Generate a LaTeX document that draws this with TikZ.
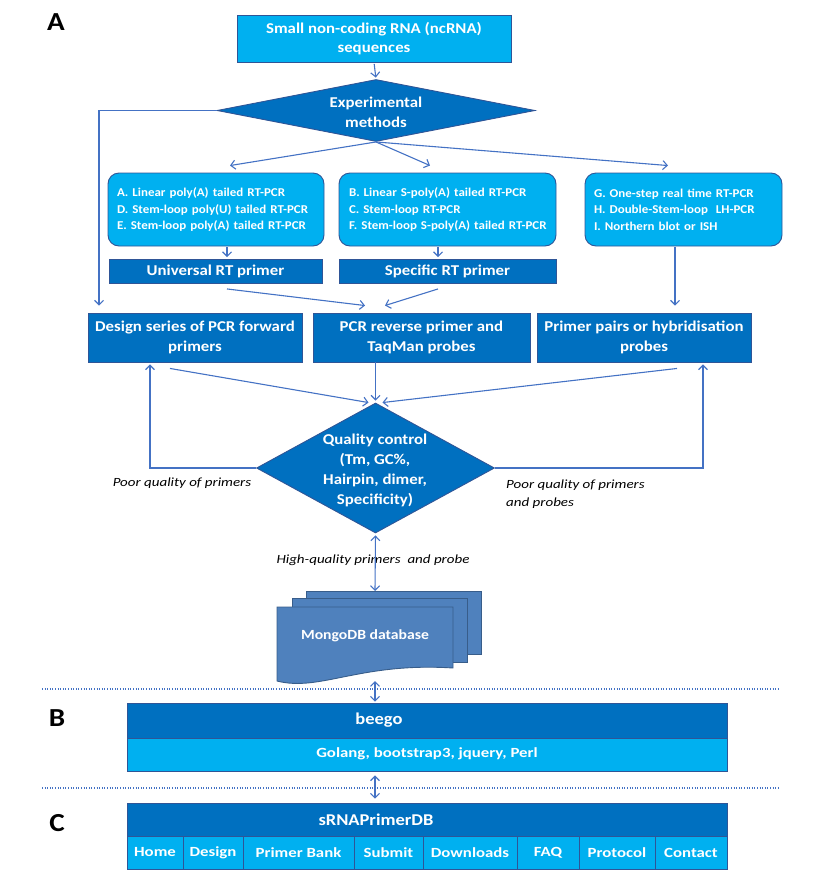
\documentclass[tikz,border=0pt]{standalone}
\usepackage{fontspec}
\setmainfont[FakeStretch=1.12]{Carlito}
\newfontfamily\smallwide[FakeStretch=1.2]{Carlito}
\newfontfamily\rfont[FakeStretch=1.08]{Carlito}
\usetikzlibrary{shapes.geometric,arrows.meta,calc}
\definecolor{lb}{HTML}{00B0F0}
\definecolor{db}{HTML}{0070C0}
\definecolor{bd}{HTML}{2F5597}
\definecolor{ar}{HTML}{4472C4}
\definecolor{mg}{HTML}{4F81BD}
\definecolor{mgb}{HTML}{385D8A}
\begin{document}
\begin{tikzpicture}[x=1pt,y=-1pt,
  box/.style={draw=bd, line width=0.9pt, inner sep=0pt, text=white, align=center, font=\bfseries\fontsize{15}{20}\selectfont},
  lbox/.style={box, fill=lb},
  dbox/.style={box, fill=db},
  rbox/.style={box, fill=lb, rounded corners=11pt, align=left, inner xsep=9pt, font=\rfont\bfseries\fontsize{12}{16.5}\selectfont, minimum height=73pt},
  diam/.style={diamond, draw=bd, fill=db, line width=0.9pt, inner sep=0pt},
  wtxt/.style={text=white, align=center, font=\bfseries\fontsize{15}{20}\selectfont, inner sep=0pt},
  ttxt/.style={text=white, align=center, font=\bfseries\fontsize{14}{17}\selectfont, inner sep=0pt},
  htxt/.style={text=white, align=center, font=\bfseries\fontsize{16.5}{18}\selectfont, inner sep=0pt},
  itxt/.style={font=\smallwide\itshape\fontsize{12.5}{18}\selectfont, inner sep=0pt, align=left},
  lab/.style={font=\bfseries\fontsize{26}{28}\selectfont, inner sep=0pt},
  arr/.style={draw=ar, line width=1.1pt, -{Straight Barb[length=4.5pt,width=9pt]}},
  darr/.style={draw=ar, line width=1.1pt, {Straight Barb[length=4.5pt,width=9pt]}-{Straight Barb[length=4.5pt,width=9pt]}},
  mdoc/.style={draw=mgb, fill=mg, line width=0.9pt},
  sep/.style={draw=ar, line width=1.2pt, dash pattern=on 1pt off 1.6pt}]
\useasboundingbox (0,0) rectangle (815,873);

% labels
\node[lab] (labA) at (56,22) {A};
\node[lab] (labB) at (57,718) {B};
\node[lab] (labC) at (57,823) {C};

% top
\node[lbox, minimum width=274pt, minimum height=47pt] (src) at (374,38.5) {Small non-coding RNA (ncRNA)\\[-1pt]sequences};
\node[diam, minimum width=318pt, minimum height=62pt] (exp) at (376,110.5) {};
\node[wtxt] (exptx) at (376,112) {Experimental\\methods};

% method boxes
\node[rbox, text width=198pt] (r1) at (216,209.5) {\mbox{A. Linear poly(A) tailed RT-PCR}\\\mbox{D. Stem-loop poly(U) tailed RT-PCR}\\\mbox{E. Stem-loop poly(A) tailed RT-PCR}};
\node[rbox, text width=197pt, inner xsep=10pt] (r2) at (447.5,209.5) {\mbox{B. Linear S-poly(A) tailed RT-PCR}\\\mbox{C. Stem-loop RT-PCR}\\\mbox{F. Stem-loop S-poly(A) tailed RT-PCR}};
\node[rbox, text width=179pt] (r3) at (683.5,209.5) {\mbox{G. One-step real time RT-PCR}\\\mbox{H. Double-Stem-loop\ \ LH-PCR}\\\mbox{I. Northern blot or ISH}};

\node[dbox, minimum width=213pt, minimum height=24pt] (univ) at (215.5,271.5) {Universal RT primer};
\node[dbox, minimum width=217pt, minimum height=24pt] (spec) at (447.5,271.5) {Specific RT primer};

% row of primer boxes
\node[dbox, minimum width=214pt, minimum height=49pt] (design) at (195,337.5) {Design series of PCR forward\\primers};
\node[dbox, minimum width=217pt, minimum height=49pt] (pcr) at (421.5,337.5) {PCR reverse primer and\\TaqMan probes};
\node[dbox, minimum width=214pt, minimum height=49pt] (ppairs) at (644,337.5) {Primer pairs or hybridisation\\probes};

% QC
\node[diam, minimum width=238pt, minimum height=130pt] (qc) at (375.5,468) {};
\node[wtxt] (qctx) at (375,470) {Quality control\\(Tm, GC\%,\\Hairpin, dimer,\\Specificity)};

\node[itxt] (poor1) at (182,483) {Poor quality of primers};
\node[itxt, anchor=west] (poor2) at (506,494) {Poor quality of primers\\and probes};
\node[itxt] (hq) at (373,560) {High-quality primers\ \ and probe};

% MongoDB multidocument
\draw[mdoc] (306,591) rectangle (481,654);
\draw[mdoc] (292,598) rectangle (467,662);
\draw[mdoc] (277,607) -- (453,607) -- (453,668) .. controls (360,662) and (320,692) .. (277,681) -- cycle;
\node[ttxt] (mongo) at (365,636) {MongoDB database};
\coordinate (mtop) at (375,591);
\coordinate (mbot) at (375,679);

% B layer
\node[dbox, minimum width=600pt, minimum height=35pt] (beego) at (427,720.5) {};
\node[htxt] (beegotx) at (379,720) {beego};
\node[lbox, minimum width=600pt, minimum height=33pt] (golang) at (427,754.5) {};
\node[ttxt, font=\smallwide\bfseries\fontsize{14}{17}\selectfont] (golangtx) at (427,754) {Golang, bootstrap3, jquery, Perl};

% C layer
\node[dbox, minimum width=600pt, minimum height=33pt] (srna) at (427,819.5) {};
\node[htxt] (srnatx) at (376,820) {sRNAPrimerDB};
\foreach \a/\b/\t/\n in {127/183/Home/c1, 183/243/Design/c2, 243/354/Primer Bank/c3, 354/423/Submit/c4, 423/517/Downloads/c5, 517/579/FAQ/c6, 579/655/Protocol/c7, 655/727/Contact/c8}{
  \pgfmathsetmacro\w{\b-\a}
  \pgfmathsetmacro\cx{(\a+\b)/2}
  \node[lbox, minimum width=\w pt, minimum height=33pt, font=\smallwide\bfseries\fontsize{14}{16}\selectfont] (\n) at (\cx,852.5) {\t};
}

% separators
\draw[sep] (42,689) -- (778,689);
\draw[sep] (42,788) -- (778,788);

% connectors
\draw[arr, shorten <=1.5pt, shorten >=1.5pt] (src.south) -- (exp.north);
\draw[arr] (exp.south) -- ($(r1.north)+(14,-7)$);
\draw[arr] (exp.south) -- ($(r2.north)+(-17.5,-7)$);
\draw[arr] (exp.south) -- ($(r3.north)+(-15.5,-7)$);
\coordinate (lcorner) at (99,110.5);
\draw[arr] (exp.west) -- (lcorner) -- ($(lcorner |- design.north)+(0,-7)$);

\draw[arr] ($(r1.south)+(11,1)$) -- ($(univ.north)+(11.5,-2)$);
\draw[arr] ($(r2.south)+(-9.5,1)$) -- ($(spec.north)+(-9.5,-2)$);
\draw[arr] ($(r3.south)+(-8.5,1)$) -- ($(ppairs.north)+(31,-7)$);

\draw[arr] ($(univ.south)+(11.5,5)$) -- ($(pcr.north)+(-56.5,-7)$);
\draw[arr] ($(spec.south)+(-9.5,5)$) -- ($(pcr.north)+(-36.5,-7)$);

\draw[arr] ($(design.south)+(-25,6)$) -- ($(qc.north)+(-7,0)$);
\draw[arr, shorten >=2pt] (pcr.south -| qc.north) -- (qc.north);
\draw[arr] ($(ppairs.south)+(33,6)$) -- ($(qc.north)+(7,0)$);

\coordinate (fbl) at (150,468);
\coordinate (fbr) at (703,468);
\draw[arr] (qc.west) -- (fbl) -- ($(fbl |- design.south)+(0,2)$);
\draw[arr] (qc.east) -- (fbr) -- ($(fbr |- ppairs.south)+(0,2)$);

\draw[darr, shorten <=2pt] (qc.south) -- (mtop);
\draw[darr, shorten <=2pt, shorten >=1pt] (mbot) -- (beego.north -| mbot);
\draw[darr, shorten <=4pt, shorten >=4pt] (golang.south -| mbot) -- (srna.north -| mbot);
\end{tikzpicture}
\end{document}
